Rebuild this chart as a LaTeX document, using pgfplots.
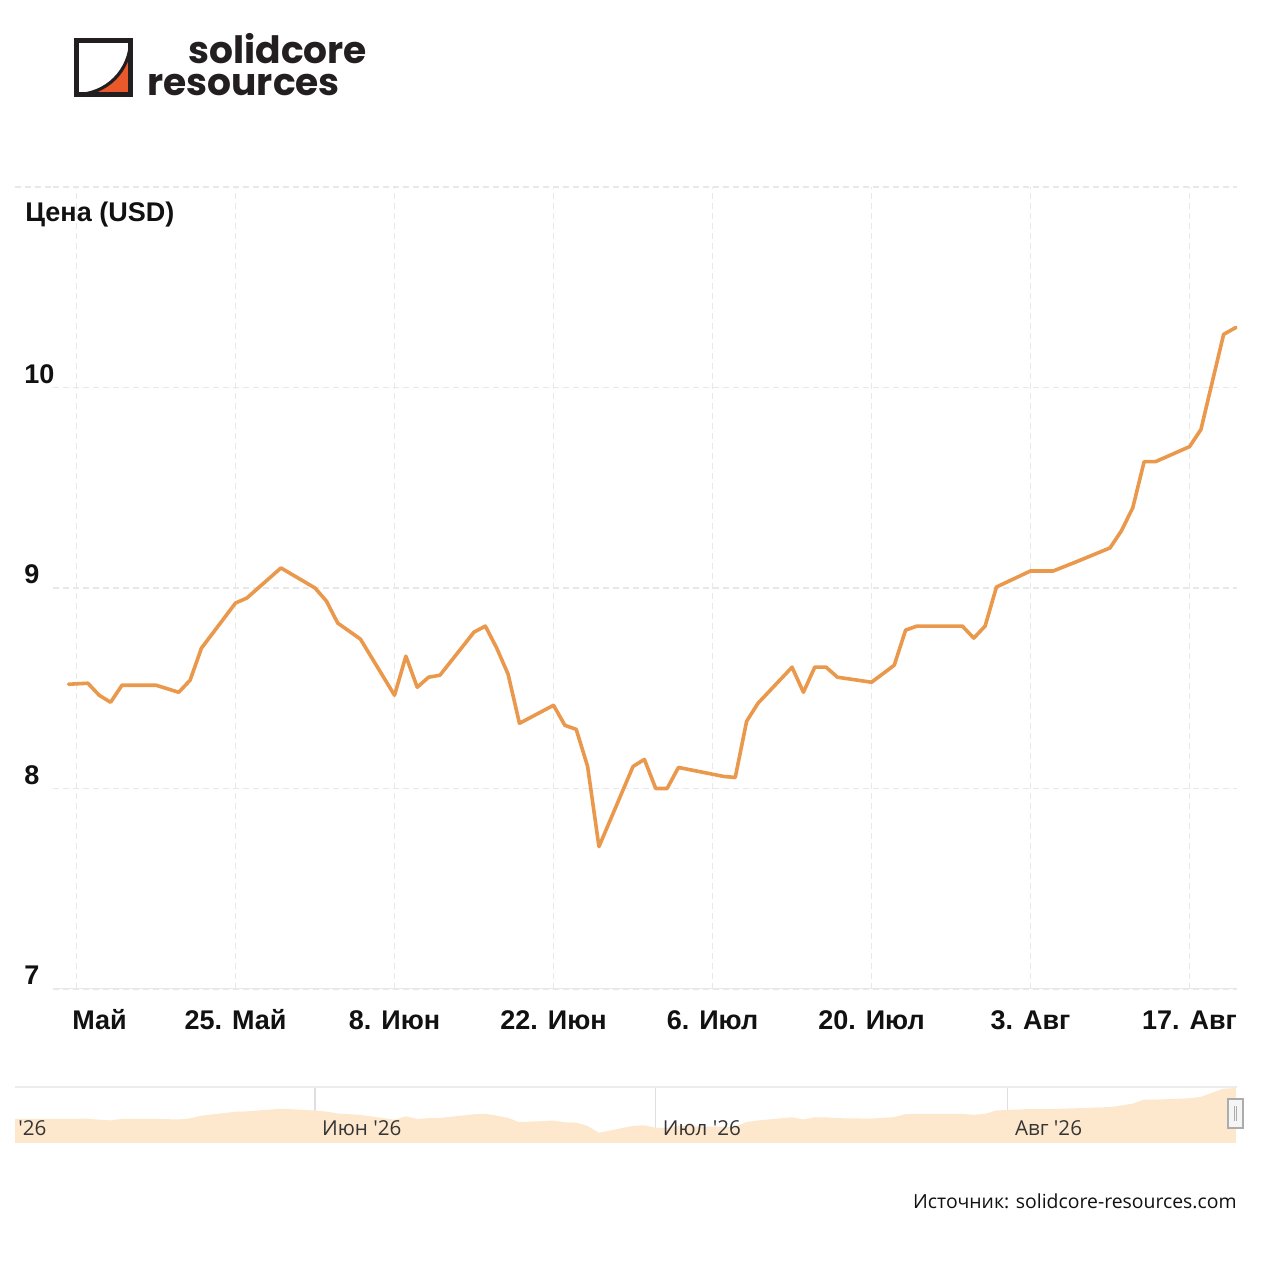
\documentclass[border=0pt]{standalone}
\usepackage{pgfplots}
\pgfplotsset{compat=1.18}
\usepackage{pgfplotstable}
\usepackage{fontspec}
\setmainfont{Liberation Sans}
\newfontfamily\logofont{Poppins}
\newfontfamily\srcfont{Open Sans}
\definecolor{lineor}{RGB}{234,152,76}
\definecolor{navfill}{RGB}{253,232,206}
\definecolor{logoor}{RGB}{233,89,43}
\definecolor{logodk}{RGB}{35,31,32}
\definecolor{txt}{RGB}{17,17,17}
\definecolor{gridc}{RGB}{232,232,232}

% day 0 = 25 May; price in USD
\pgfplotstableread{
d v
-14.7 8.52
-13 8.525
-12 8.465
-11 8.43
-10 8.515
-7 8.515
-5 8.48
-4 8.54
-3 8.70
0 8.925
1 8.95
4 9.10
7 9.00
8 8.935
9 8.825
11 8.745
14 8.465
15 8.66
16 8.505
17 8.555
18 8.565
21 8.78
22 8.81
23 8.70
24 8.57
25 8.325
28 8.415
29 8.315
30 8.295
31 8.11
32 7.71
35 8.11
36 8.145
37 8.00
38 8.00
39 8.105
43 8.06
44 8.055
45 8.335
46 8.425
49 8.605
50 8.48
51 8.605
52 8.605
53 8.555
56 8.53
58 8.615
59 8.79
60 8.81
64 8.81
65 8.75
66 8.81
67 9.005
70 9.085
72 9.085
74 9.13
77 9.20
78 9.285
79 9.40
80 9.63
81 9.63
84 9.705
85 9.79
87 10.265
88.1 10.30
}\pricedata

\pgfplotstableread{
d v
-19.4 8.52
-14.7 8.52
-13 8.525
-12 8.465
-11 8.43
-10 8.515
-7 8.515
-5 8.48
-4 8.54
-3 8.70
0 8.925
1 8.95
4 9.10
7 9.00
8 8.935
9 8.825
11 8.745
14 8.465
15 8.66
16 8.505
17 8.555
18 8.565
21 8.78
22 8.81
23 8.70
24 8.57
25 8.325
28 8.415
29 8.315
30 8.295
31 8.11
32 7.71
35 8.11
36 8.145
37 8.00
38 8.00
39 8.105
43 8.06
44 8.055
45 8.335
46 8.425
49 8.605
50 8.48
51 8.605
52 8.605
53 8.555
56 8.53
58 8.615
59 8.79
60 8.81
64 8.81
65 8.75
66 8.81
67 9.005
70 9.085
72 9.085
74 9.13
77 9.20
78 9.285
79 9.40
80 9.63
81 9.63
84 9.705
85 9.79
87 10.265
88.1 10.30
}\navdata

\newcommand\lbl{\fontsize{13.5}{16}\selectfont\bfseries\color{txt}}

\begin{document}
\begin{tikzpicture}[x=1pt,y=1pt]
\path[use as bounding box, fill=white] (0,0) rectangle (632,640);

% logo
\fill[logoor] (38.25,592.75) -- (65.25,592.75) -- (65.25,619.75) arc[start angle=0, end angle=-90, radius=27] -- cycle;
\draw[logodk, line width=1.6pt] (65.25,619.75) arc[start angle=0, end angle=-90, radius=27];
\draw[logodk, line width=2.6pt] (38.25,592.75) rectangle (65.25,619.75);
\node[anchor=south west, inner sep=0pt, align=left, text=logodk, font=\logofont\bfseries\fontsize{18.8}{16}\selectfont] at (73.5,592.1) {\hspace*{20.5pt}solidcore\\resources};

% axis title
\node[anchor=base west, inner sep=0pt, font=\lbl] at (12.5,529) {Цена (USD)};

% top frame line extends to the left edge
\draw[gridc, line width=0.6pt, dash pattern=on 3pt off 2pt] (7.5,546.5) -- (26.5,546.5);

\begin{axis}[
  at={(26.5pt,145.5pt)}, anchor=south west,
  width=592pt, height=401pt, scale only axis,
  xmin=-16.07, xmax=88.18, ymin=7, ymax=11,
  axis line style={draw=none},
  xtick={-14,0,14,28,42,56,70,84},
  xticklabels={\phantom{11. }Май, 25. Май, 8. Июн, 22. Июн, 6. Июл, 20. Июл, 3. Авг, 17. Авг},
  ytick={7,8,9,10,11},
  yticklabels={7,8,9,10,{}},
  major tick length=0pt,
  grid=major,
  major grid style={gridc, line width=0.6pt, dash pattern=on 3pt off 2pt},
  xticklabel style={font=\lbl, anchor=base, inner sep=0pt, yshift=-20.5pt},
  yticklabel style={font=\lbl, anchor=base west, inner sep=0pt, xshift=-14.5pt, yshift=2pt},
]
\draw[gridc, line width=0.6pt] (rel axis cs:0,0) -- (rel axis cs:1,0);
\addplot[lineor, line width=1.8pt, line join=round, line cap=round] table[x=d, y=v] {\pricedata};
\end{axis}

% navigator
\begin{axis}[
  at={(7.5pt,68.5pt)}, anchor=south west,
  width=611pt, height=28pt, scale only axis,
  xmin=-19.41, xmax=88.18, ymin=7.12, ymax=10.36,
  axis line style={draw=none},
  xtick={7,37,68}, xticklabels={},
  ytick=\empty,
  major tick length=0pt,
  xmajorgrids,
  major grid style={gray!25, line width=0.6pt},
]
\draw[gray!15, line width=0.7pt] (rel axis cs:0,1) -- (rel axis cs:1,1);
\addplot[fill=navfill, draw=none] table[x=d, y=v] {\navdata} \closedcycle;
\node[anchor=base west, inner sep=0pt, font=\srcfont\fontsize{10.3}{12}\selectfont, text=txt!85] at (axis cs:-19.15,7.58) {\textquotesingle26};
\node[anchor=base west, inner sep=0pt, font=\srcfont\fontsize{10.3}{12}\selectfont, text=txt!85] at (axis cs:7.6,7.58) {Июн \textquotesingle26};
\node[anchor=base west, inner sep=0pt, font=\srcfont\fontsize{10.3}{12}\selectfont, text=txt!85] at (axis cs:37.6,7.58) {Июл \textquotesingle26};
\node[anchor=base west, inner sep=0pt, font=\srcfont\fontsize{10.3}{12}\selectfont, text=txt!85] at (axis cs:68.6,7.58) {Авг \textquotesingle26};
\end{axis}

% navigator handle
\draw[gray!65, line width=0.8pt, fill=gray!8] (614,76) rectangle (621.5,90.5);
\draw[gray!65, line width=0.5pt] (617.2,79.5) -- (617.2,87) (618.4,79.5) -- (618.4,87);

% source
\node[anchor=base east, inner sep=0pt, font=\srcfont\fontsize{9.7}{12}\selectfont, text=txt] at (618.5,35.5) {Источник: solidcore-resources.com};
\end{tikzpicture}
\end{document}
